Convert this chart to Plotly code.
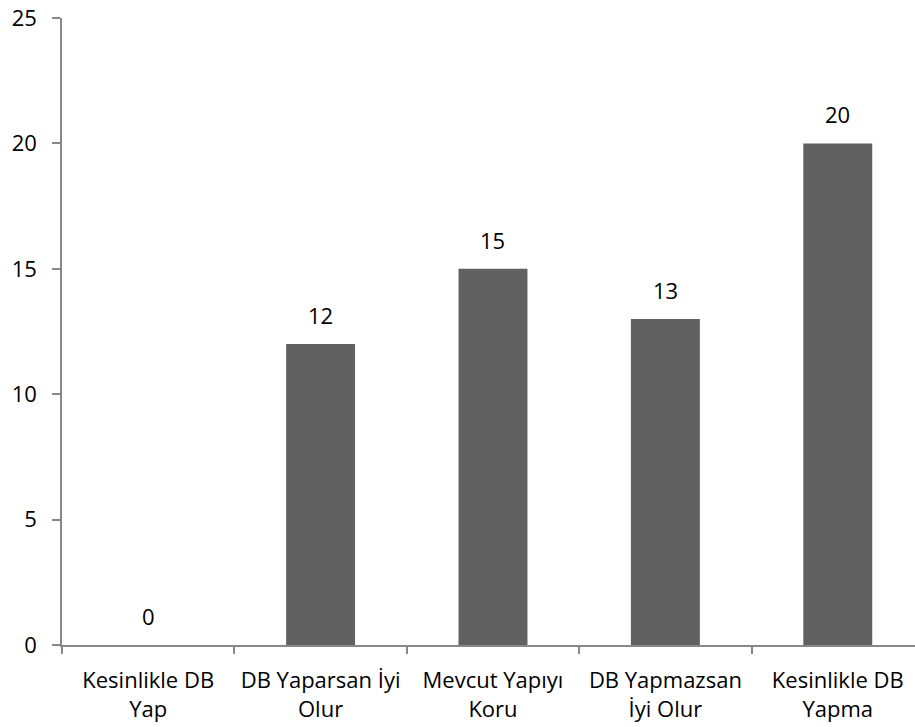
import plotly.graph_objects as go

categories = [
    "Kesinlikle DB<br>Yap",
    "DB Yaparsan İyi<br>Olur",
    "Mevcut Yapıyı<br>Koru",
    "DB Yapmazsan<br>İyi Olur",
    "Kesinlikle DB<br>Yapma",
]
values = [0, 12, 15, 13, 20]
y_ticks = [0, 5, 10, 15, 20, 25]

FONT = "Open Sans"
AXIS_COLOR = "#888888"
BAR_COLOR = "#616161"

fig = go.Figure()
fig.add_trace(go.Bar(
    x=categories,
    y=values,
    marker=dict(color=BAR_COLOR, line=dict(width=0)),
    width=0.4,
    hoverinfo="skip",
))

# value labels above each bar
for c, v in zip(categories, values):
    fig.add_annotation(
        x=c, y=v, text=str(v), showarrow=False,
        yanchor="bottom", yshift=12,
        font=dict(family=FONT, size=22, color="#000000"),
    )

fig.update_layout(
    width=915, height=727,
    margin=dict(l=62, r=0, t=18, b=82),
    paper_bgcolor="white", plot_bgcolor="white",
    showlegend=False,
    font=dict(family=FONT, size=22, color="#000000"),
)

fig.update_xaxes(
    type="category",
    range=[-0.5, 4.448],
    automargin=False,
    tickangle=0,
    showgrid=False, zeroline=False,
    showline=True, linecolor=AXIS_COLOR, linewidth=1.5,
    ticks="outside", tickson="boundaries", ticklen=7,
    tickcolor=AXIS_COLOR, tickwidth=1.5,
    tickfont=dict(family=FONT, size=22, color="#000000"),
    ticklabelstandoff=15,
)
fig.update_yaxes(
    range=[0, 25],
    tickvals=y_ticks,
    automargin=False,
    showgrid=False, zeroline=False,
    showline=True, linecolor=AXIS_COLOR, linewidth=1.5,
    ticks="outside", ticklen=8,
    tickcolor=AXIS_COLOR, tickwidth=1.5,
    tickfont=dict(family=FONT, size=22, color="#000000"),
    ticklabelstandoff=11,
)

fig.write_html("out.html")
